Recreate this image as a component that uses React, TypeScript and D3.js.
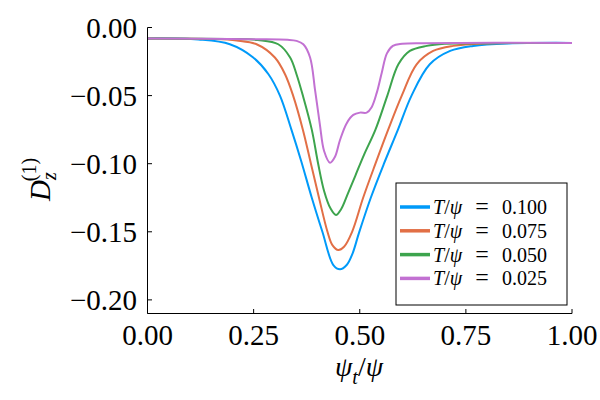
import * as d3 from 'd3'

// psi_t / psi sample positions and D_z^(1) values
const xT100 = [0, 0.12, 0.194, 0.249, 0.285, 0.312, 0.339, 0.362, 0.387, 0.412, 0.4378, 0.4535, 0.4692, 0.483, 0.498, 0.526, 0.557, 0.59, 0.622, 0.665, 0.713, 0.767, 0.85, 1.0]
const yT100 = [-0.008, -0.0088, -0.0123, -0.022, -0.0343, -0.05, -0.075, -0.098, -0.125, -0.15, -0.1744, -0.1775, -0.1744, -0.166, -0.151, -0.125, -0.1, -0.075, -0.05, -0.027, -0.0172, -0.0135, -0.0117, -0.0113]

const xT075 = [0, 0.15, 0.21, 0.257, 0.3, 0.324, 0.343, 0.366, 0.385, 0.404, 0.424, 0.436, 0.4495, 0.463, 0.482, 0.508, 0.537, 0.567, 0.599, 0.634, 0.673, 0.72, 0.8, 1.0]
const yT075 = [-0.008, -0.0084, -0.0095, -0.0123, -0.022, -0.0343, -0.05, -0.075, -0.1, -0.125, -0.15, -0.16, -0.1634, -0.161, -0.15, -0.125, -0.1, -0.075, -0.05, -0.027, -0.0172, -0.0135, -0.0117, -0.0113]

const xT050 = [0, 0.2, 0.26, 0.308, 0.336, 0.351, 0.366, 0.387, 0.402, 0.416, 0.431, 0.444, 0.456, 0.472, 0.49, 0.51, 0.537, 0.565, 0.591, 0.618, 0.658, 0.7, 0.8, 1.0]
const yT050 = [-0.008, -0.0084, -0.0092, -0.0123, -0.022, -0.0343, -0.05, -0.075, -0.1, -0.12, -0.1328, -0.1377, -0.1335, -0.122, -0.1085, -0.0935, -0.075, -0.05, -0.027, -0.0172, -0.0135, -0.012, -0.0115, -0.0113]

const xT025 = [0, 0.25, 0.33, 0.351, 0.367, 0.383, 0.395, 0.406, 0.416, 0.4299, 0.4417, 0.4535, 0.469, 0.4848, 0.5006, 0.5163, 0.528, 0.54, 0.552, 0.564, 0.578, 0.6, 0.65, 1.0]
const yT025 = [-0.008, -0.0086, -0.009, -0.0098, -0.0123, -0.022, -0.0466, -0.0711, -0.0907, -0.0993, -0.0949, -0.0826, -0.0704, -0.0642, -0.0625, -0.0625, -0.0585, -0.048, -0.033, -0.019, -0.0135, -0.012, -0.0115, -0.0113]

const temps = ['0.100', '0.075', '0.050', '0.025']
const colors = ['#009af9', '#e26f46', '#3da44d', '#c271d2']
const xTicks = [0, 0.25, 0.5, 0.75, 1]
const yTicks = [0, -0.05, -0.1, -0.15, -0.2]

const series = [
  { xs: xT100, ys: yT100 },
  { xs: xT075, ys: yT075 },
  { xs: xT050, ys: yT050 },
  { xs: xT025, ys: yT025 },
]

const font = '"Liberation Serif", "DejaVu Serif", serif'

export default function App() {
  const x = d3.scaleLinear().domain([0, 1]).range([147.5, 572])
  const y = d3.scaleLinear().domain([-0.21, 0]).range([313.5, 27.5])
  const fmt = d3.format('.2f')

  const line = d3
    .line<[number, number]>()
    .x((d) => x(d[0]))
    .y((d) => y(d[1]))
    .curve(d3.curveCatmullRom.alpha(0.5))

  const legend = { x: 396, y: 183, w: 171, h: 122 }

  return (
    <svg
      width={600}
      height={400}
      style={{ position: 'absolute', left: 0, top: 0, background: '#fff' }}
      fontFamily={font}
    >
      <rect width={600} height={400} fill="#fff" />

      {/* curves */}
      {series.map((s, i) => (
        <path
          key={i}
          d={line(s.xs.map((v, j) => [v, s.ys[j]] as [number, number])) || ''}
          fill="none"
          stroke={colors[i]}
          strokeWidth={2}
          strokeLinejoin="round"
        />
      ))}

      {/* axes */}
      <line x1={x(0)} x2={x(1)} y1={313.5} y2={313.5} stroke="#000" strokeWidth={1} />
      <line x1={147.5} x2={147.5} y1={y(0)} y2={313.5} stroke="#000" strokeWidth={1} />
      {xTicks.map((t) => (
        <g key={`x${t}`}>
          <line x1={x(t)} x2={x(t)} y1={313.5} y2={309} stroke="#000" />
          <text x={x(t)} y={344.5} textAnchor="middle" fontSize={29}>
            {fmt(t)}
          </text>
        </g>
      ))}
      {yTicks.map((t) => (
        <g key={`y${t}`}>
          <line x1={147.5} x2={152} y1={y(t)} y2={y(t)} stroke="#000" />
          <text x={137} y={y(t) + 10} textAnchor="end" fontSize={29}>
            {fmt(t)}
          </text>
        </g>
      ))}

      {/* axis labels */}
      <text x={359} y={376} textAnchor="middle" fontSize={28}>
        <tspan fontStyle="italic">ψ</tspan>
        <tspan fontStyle="italic" fontSize={20} dy={8}>t</tspan>
        <tspan dy={-8}>/</tspan>
        <tspan fontStyle="italic">ψ</tspan>
      </text>
      <text transform="translate(50,201) rotate(-90)" fontSize={29}>
        <tspan fontStyle="italic">D</tspan>
        <tspan fontStyle="italic" fontSize={20} dy={6}>z</tspan>
        <tspan fontSize={20} dx={-9} dy={-20}>(1)</tspan>
      </text>

      {/* legend */}
      <rect
        x={legend.x}
        y={legend.y}
        width={legend.w}
        height={legend.h}
        fill="#fff"
        stroke="#000"
        strokeWidth={1}
      />
      {temps.map((t, i) => {
        const cy = 207 + i * 23.8
        return (
          <g key={t} fontSize={20}>
            <line x1={400} x2={430} y1={cy} y2={cy} stroke={colors[i]} strokeWidth={3.5} />
            <text x={433} y={cy + 7}>
              <tspan fontStyle="italic">T</tspan>/<tspan fontStyle="italic">ψ</tspan>
            </text>
            <text x={482} y={cy + 7} textAnchor="middle" fontSize={24}>=</text>
            <text x={502} y={cy + 7}>{t}</text>
          </g>
        )
      })}
    </svg>
  )
}
